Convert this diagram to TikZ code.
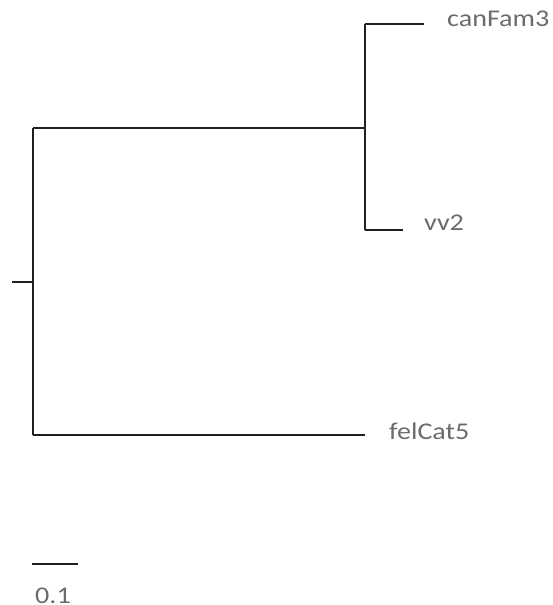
\documentclass[tikz,border=0pt]{standalone}
\usepackage{fontspec}
\setmainfont{Carlito}
\newfontfamily\labelfont[FakeStretch=1.17]{Carlito}
\begin{document}
\begin{tikzpicture}[x=1pt,y=-1pt,
  branch/.style={draw=black!88,line width=1.4pt},
  taxon/.style={anchor=base west,inner sep=0pt,text=black!58,font=\labelfont\fontsize{24}{24}\selectfont}]
\useasboundingbox (0,0) rectangle (553,605);
% internal nodes and branch ends
\coordinate (rootstub) at (12,282);
\coordinate (root) at (33,282);
\coordinate (rtop) at (33,128);
\coordinate (rbot) at (33,435);
\coordinate (inner) at (365,128);
\coordinate (itop) at (365,24);
\coordinate (ibot) at (365,230);
\coordinate (canend) at (424,24);
\coordinate (vvend) at (403,230);
\coordinate (felend) at (365,435);
% leaf labels
\node[taxon] (can) at (447,27) {canFam3};
\node[taxon] (vv) at (424,230) {vv2};
\node[taxon] (fel) at (389,439) {felCat5};
% tree
\draw[branch] (rootstub) -- (root);
\draw[branch] (rtop) -- (rbot);
\draw[branch] (rtop) -- (inner);
\draw[branch] (itop) -- (ibot);
\draw[branch] (itop) -- (canend);
\draw[branch] (ibot) -- (vvend);
\draw[branch] (rbot) -- (felend);
% scale bar
\coordinate (sbl) at (32,564);
\coordinate (sbr) at (78,564);
\draw[branch] (sbl) -- (sbr);
\node[taxon] (sblabel) at (35,603) {0.1};
\end{tikzpicture}
\end{document}
